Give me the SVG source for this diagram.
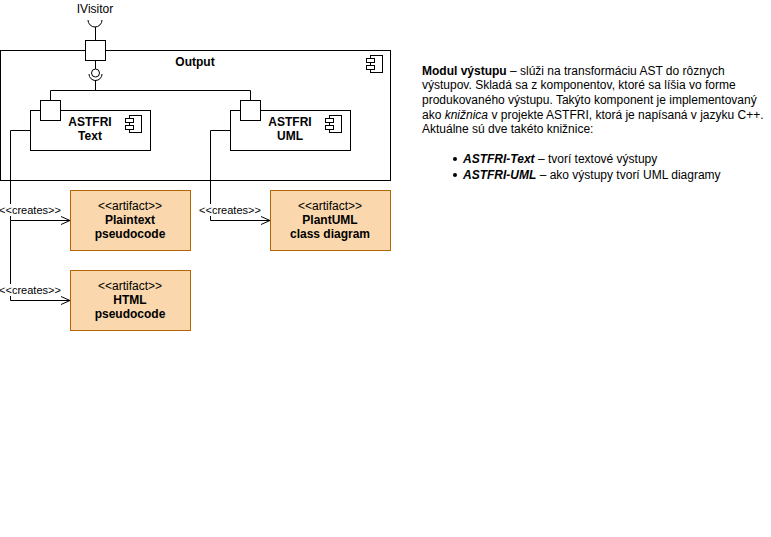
<svg xmlns="http://www.w3.org/2000/svg" width="771" height="537" viewBox="0 0 771 537">
<defs>
<style>
.s{fill:#fff;stroke:#000;stroke-width:1}
.n{fill:none;stroke:#000;stroke-width:1}
.a{fill:#fad7ac;stroke:#b46504;stroke-width:1}
.t{font-family:"Liberation Sans",Arial,sans-serif;font-size:12px;fill:#000}
.b{font-weight:bold}
.c{text-anchor:middle}
.l{font-family:"Liberation Sans",Arial,sans-serif;font-size:11px;fill:#000}
</style>
<marker id="open" markerWidth="12" markerHeight="10" refX="10" refY="5" orient="auto" markerUnits="userSpaceOnUse">
<path d="M1,1 L10,5 L1,9" fill="none" stroke="#000" stroke-width="1"/>
</marker>
<g id="icon">
<rect x="4" y="0" width="12" height="17" fill="#fff" stroke="#000"/>
<rect x="0" y="3" width="8" height="4" fill="#fff" stroke="#000"/>
<rect x="0" y="10" width="8" height="4" fill="#fff" stroke="#000"/>
</g>
</defs>
<rect width="771" height="537" fill="#fff"/>

<g id="output">
<rect class="s" x="0.5" y="50.5" width="390" height="130"/>
<text class="t b c" x="195" y="66">Output</text>
<use href="#icon" x="366.5" y="55.5"/>
</g>

<g id="ivisitor">
<text class="t c" x="95" y="13">IVisitor</text>
<path class="n" d="M88,20 A7,7 0 0 0 102,20"/>
<line class="n" x1="95.5" y1="27" x2="95.5" y2="40"/>
<rect class="s" x="85.5" y="40.5" width="20" height="20"/>
<line class="n" x1="95.5" y1="60" x2="95.5" y2="69"/>
<circle class="n" cx="95.5" cy="73" r="4"/>
<path class="n" d="M89,74 A6.5,6.5 0 0 0 102,74"/>
</g>

<g id="astfri-text">
<rect class="s" x="30.5" y="110.5" width="120" height="40"/>
<rect class="s" x="40.5" y="100.5" width="20" height="20"/>
<text class="t b c" x="90" y="126">ASTFRI</text>
<text class="t b c" x="90" y="140">Text</text>
<use href="#icon" x="125.5" y="115.5"/>
</g>

<g id="astfri-uml">
<rect class="s" x="230.5" y="110.5" width="120" height="40"/>
<rect class="s" x="240.5" y="100.5" width="20" height="20"/>
<text class="t b c" x="290" y="126">ASTFRI</text>
<text class="t b c" x="290" y="140">UML</text>
<use href="#icon" x="325.5" y="115.5"/>
</g>

<g id="plaintext">
<rect class="a" x="70.5" y="190.5" width="120" height="60"/>
<text class="t c" x="130" y="210">&lt;&lt;artifact&gt;&gt;</text>
<text class="t b c" x="130" y="224">Plaintext</text>
<text class="t b c" x="130" y="238">pseudocode</text>
</g>

<g id="plantuml">
<rect class="a" x="270.5" y="190.5" width="120" height="60"/>
<text class="t c" x="330" y="210">&lt;&lt;artifact&gt;&gt;</text>
<text class="t b c" x="330" y="224">PlantUML</text>
<text class="t b c" x="330" y="238">class diagram</text>
</g>

<g id="html">
<rect class="a" x="70.5" y="270.5" width="120" height="60"/>
<text class="t c" x="130" y="290">&lt;&lt;artifact&gt;&gt;</text>
<text class="t b c" x="130" y="304">HTML</text>
<text class="t b c" x="130" y="318">pseudocode</text>
</g>

<g id="connectors">
<polyline class="n" points="50.5,100 50.5,90.5 250.5,90.5 250.5,100"/>
<line class="n" x1="95.5" y1="80" x2="95.5" y2="90.5"/>
<polyline class="n" points="30,130.5 10.5,130.5 10.5,220.5 70,220.5" marker-end="url(#open)"/>
<polyline class="n" points="10.5,220.5 10.5,300.5 70,300.5" marker-end="url(#open)"/>
<polyline class="n" points="230,130.5 210.5,130.5 210.5,220.5 270,220.5" marker-end="url(#open)"/>
<rect x="0" y="204" width="61" height="12" fill="#fff"/>
<text class="l c" x="30" y="214">&lt;&lt;creates&gt;&gt;</text>
<rect x="0" y="284" width="61" height="12" fill="#fff"/>
<text class="l c" x="30" y="294">&lt;&lt;creates&gt;&gt;</text>
<rect x="200" y="204" width="61" height="12" fill="#fff"/>
<text class="l c" x="230" y="214">&lt;&lt;creates&gt;&gt;</text>
</g>

<g id="description">
<text class="t" x="422" y="75"><tspan class="b">Modul výstupu</tspan> – slúži na transformáciu AST do rôznych</text>
<text class="t" x="422" y="89">výstupov. Skladá sa z komponentov, ktoré sa líšia vo forme</text>
<text class="t" x="422" y="104">produkovaného výstupu. Takýto komponent je implementovaný</text>
<text class="t" x="422" y="119">ako <tspan font-style="italic">knižnica</tspan> v projekte ASTFRI, ktorá je napísaná v jazyku C++.</text>
<text class="t" x="422" y="133">Aktuálne sú dve takéto knižnice:</text>
<circle cx="455" cy="159" r="2"/>
<text class="t" x="463" y="163"><tspan class="b" font-style="italic">ASTFRI-Text</tspan> – tvorí textové výstupy</text>
<circle cx="455" cy="175" r="2"/>
<text class="t" x="463" y="179"><tspan class="b" font-style="italic">ASTFRI-UML</tspan> – ako výstupy tvorí UML diagramy</text>
</g>
</svg>
